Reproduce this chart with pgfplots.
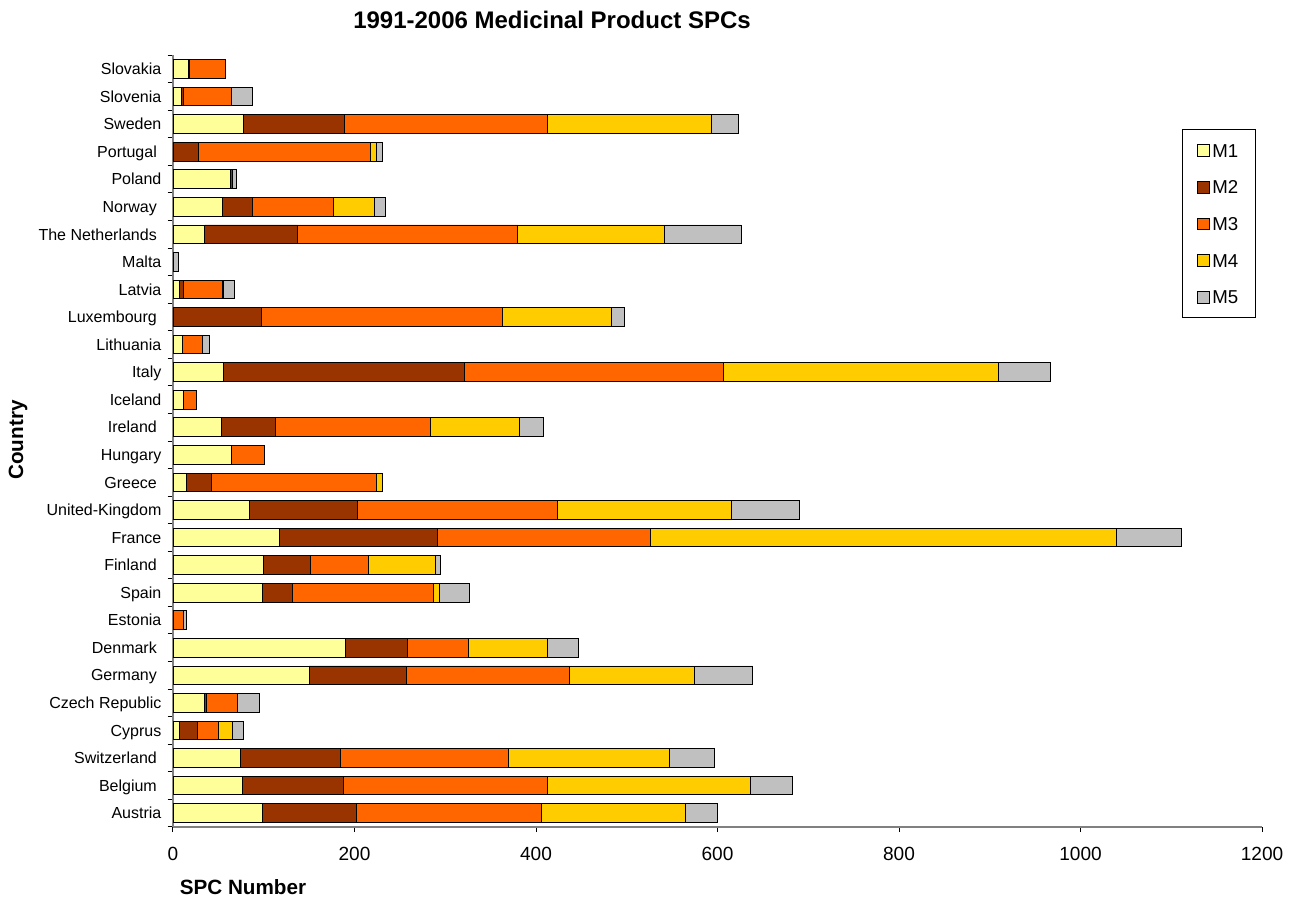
\documentclass[border=0pt]{standalone}
\usepackage{pgfplots}
\usepackage{pgfplotstable}
\pgfplotsset{compat=1.18}
\usepackage{fontspec}
\setmainfont{Liberation Sans}
\definecolor{m1}{HTML}{FFFF99}
\definecolor{m2}{HTML}{993300}
\definecolor{m3}{HTML}{FF6600}
\definecolor{m4}{HTML}{FFCC00}
\definecolor{m5}{HTML}{C0C0C0}
\definecolor{axgray}{HTML}{808080}
\newcommand{\trsp}{\kern3.4pt}

\pgfplotstableread{
y M1 M2 M3 M4 M5
0 98 104 204 159 35
1 76 112 225 223 46
2 74 111 185 177 50
3 7 20 23 15 13
4 35 2 34 0 24
5 150 107 180 138 64
6 190 68 68 87 34
7 0 0 12 0 3
8 98 34 155 7 33
9 100 51 64 74 6
10 117 174 235 513 72
11 84 119 221 191 75
12 15 27 182 7 0
13 64 0 37 0 0
14 53 60 171 98 26
15 11 0 15 0 0
16 56 265 285 303 58
17 10 0 22 0 8
18 0 97 266 120 14
19 7 5 42 2 12
20 0 0 0 0 6
21 35 102 243 162 84
22 54 33 90 45 12
23 63 2 0 0 5
24 0 28 189 7 7
25 78 111 224 180 30
26 9 2 53 0 24
27 17 1 40 0 0
}\data

\begin{document}
\begin{tikzpicture}
\path[use as bounding box] (-129.75pt,-54.9pt) rectangle (846.75pt,620.1pt);
\begin{axis}[
  at={(0,0)}, anchor=south west,
  scale only axis,
  width=816.75pt, height=578.7pt,
  xbar stacked,
  bar width=14pt,
  xmin=0, xmax=1200,
  ymin=-0.5, ymax=27.5,
  xtick={0,200,...,1200},
  ytick={0,...,27},
  minor ytick={-0.5,0.5,...,27.5},
  yticklabels={Austria,Belgium\trsp,Switzerland\trsp,Cyprus,Czech Republic,Germany\trsp,Denmark\trsp,Estonia,Spain,Finland\trsp,France,United-Kingdom,Greece\trsp,Hungary,Ireland\trsp,Iceland,Italy,Lithuania,Luxembourg\trsp,Latvia,Malta,The Netherlands\trsp,Norway\trsp,Poland,Portugal\trsp,Sweden,Slovenia,Slovakia},
  axis x line*=bottom, axis y line*=left,
  axis line style={draw=axgray, line width=1.3pt, -},
  tick align=outside,
  xtick pos=bottom, ytick pos=left,
  major tick length=4pt,
  minor tick length=4pt,
  tick style={draw=black, line width=0.75pt},
  major y tick style={draw=none},
  /pgf/number format/assume math mode=true,
  /pgf/number format/1000 sep={},
  xticklabel style={font=\fontsize{14.3}{16}\selectfont, yshift=-8pt},
  yticklabel style={font=\fontsize{12}{14}\selectfont, xshift=-1.2pt, text height=8.6pt, text depth=0pt},
  every axis plot/.append style={draw=black, line width=0.6pt},
  legend image code/.code={\draw[#1, draw=black, line width=0.6pt] (0pt,-4.4pt) rectangle (8.8pt,4.4pt);},
  legend style={at={(axis description cs:0.9262,0.904)}, anchor=north west,
    draw=black, line width=0.75pt, font=\fontsize{14}{16}\selectfont,
    inner xsep=11pt, inner ysep=8.5pt, row sep=13.5pt, column sep=0.3pt,
    nodes={inner sep=2pt, text height=10pt, text depth=0pt}},
  legend cell align=left,
]
\addplot[fill=m1] table[x=M1,y=y]{\data};
\addplot[fill=m2] table[x=M2,y=y]{\data};
\addplot[fill=m3] table[x=M3,y=y]{\data};
\addplot[fill=m4] table[x=M4,y=y]{\data};
\addplot[fill=m5] table[x=M5,y=y]{\data};
\legend{M1,M2,M3,M4,M5}
\end{axis}
\node[font=\bfseries\fontsize{18}{20}\selectfont] at (284.25pt,605.1pt) {1991-2006 Medicinal Product SPCs};
\node[font=\bfseries\fontsize{15.5}{18}\selectfont] at (52.5pt,-45.1pt) {SPC Number};
\node[font=\bfseries\fontsize{15.5}{18}\selectfont, rotate=90] at (-116.25pt,290.1pt) {Country};
\end{tikzpicture}
\end{document}
